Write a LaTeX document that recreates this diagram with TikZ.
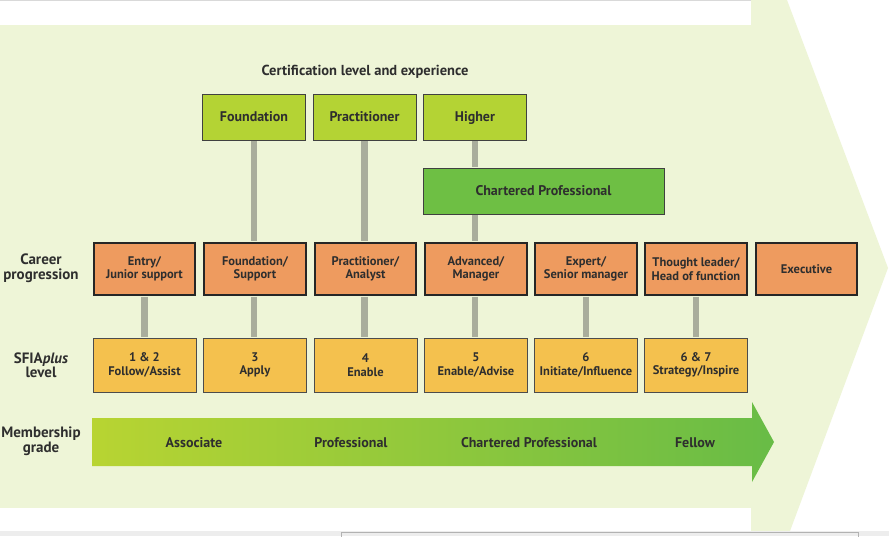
\documentclass[tikz,border=0pt]{standalone}
\usepackage{fontspec}
\setmainfont{PT Sans}
\usepackage{tikz}
\usetikzlibrary{positioning,calc}
\definecolor{bggreen}{HTML}{EEF5D7}
\definecolor{certgreen}{HTML}{B4D334}
\definecolor{chartgreen}{HTML}{6EBF44}
\definecolor{careerorange}{HTML}{EE9B5F}
\definecolor{levelyellow}{HTML}{F4C14E}
\definecolor{linkgrey}{HTML}{A9AD9C}
\definecolor{textgrey}{HTML}{2E2E2E}
\definecolor{gradeleft}{HTML}{B8D432}
\definecolor{graderight}{HTML}{68BC46}
\tikzset{
  boxfont/.style={font=\bfseries\fontsize{12.5}{13.5}\selectfont, text=textgrey, align=center, inner sep=0pt},
  certbox/.style={boxfont, font=\bfseries\fontsize{14}{15}\selectfont, text height=2.3ex, text depth=0.5ex, draw=black!75, line width=0.8pt, fill=certgreen, minimum width=103pt, minimum height=46pt},
  chartbox/.style={certbox, fill=chartgreen, minimum width=241pt},
  careerbox/.style={boxfont, draw=black!85, line width=1.8pt, fill=careerorange, minimum width=101.5pt, minimum height=52pt},
  levelbox/.style={boxfont, draw=black!70, line width=0.8pt, fill=levelyellow, minimum width=103pt, minimum height=54pt},
  link/.style={draw=linkgrey, line width=6.5pt, shorten <=1pt, shorten >=1pt},
  rowlabel/.style={font=\bfseries\fontsize{15}{14.5}\selectfont, text=textgrey, align=center, inner sep=0pt},
  gradelabel/.style={boxfont, font=\bfseries\fontsize{14}{15}\selectfont, text height=2.5ex, text depth=0.5ex}
}
\begin{document}
\begin{tikzpicture}[x=1pt,y=-1pt]
  \useasboundingbox (0,0) rectangle (889,536);
  \fill[white] (0,0) rectangle (889,536);
  \draw[black!15,line width=1pt] (0,0.5) -- (751,0.5);
  \fill[bggreen] (0,25) rectangle (752,508);
  \fill[bggreen] (751,0) -- (787,0) -- (888,268) -- (790,531) -- (751,531) -- cycle;
  \fill[black!7] (0,531) rectangle (889,536);
  \draw[black!30,line width=0.6pt] (341,536.5) -- (341,532.5) -- (858,532.5) -- (858,536.5);

  \node[boxfont,font=\bfseries\fontsize{14.5}{16}\selectfont] (title) at (365,71.5) {Certification level and experience};

  \node[certbox] (found) at (254,117) {Foundation};
  \node[certbox] (pract) at (364.5,117) {Practitioner};
  \node[certbox] (higher) at (475,117) {Higher};
  \node[chartbox] (chart) at (543.5,191) {Chartered Professional};

  \node[careerbox] (entry) at (144.5,269) {Entry/\\Junior support};
  \node[careerbox] (support) at (255,269) {Foundation/\\Support};
  \node[careerbox] (analyst) at (365.5,269) {Practitioner/\\Analyst};
  \node[careerbox] (manager) at (476,269) {Advanced/\\Manager};
  \node[careerbox] (senior) at (586,269) {Expert/\\Senior manager};
  \node[careerbox] (leader) at (696,269) {Thought leader/\\Head of function};
  \node[careerbox] (exec) at (806.5,269) {Executive};

  \node[levelbox] (lvla) at (144.5,365) {1 \& 2\\Follow/Assist};
  \node[levelbox] (lvlb) at (255,365) {3\\Apply};
  \node[levelbox] (lvlc) at (365.5,365) {4\\Enable};
  \node[levelbox] (lvld) at (476,365) {5\\Enable/Advise};
  \node[levelbox] (lvle) at (586,365) {6\\Initiate/Influence};
  \node[levelbox] (lvlf) at (696,365) {6 \& 7\\Strategy/Inspire};

  \draw[link] (found.south) -- (found.south |- support.north);
  \draw[link] (pract.south) -- (pract.south |- analyst.north);
  \draw[link] (higher.south) -- (higher.south |- chart.north);
  \draw[link] (higher.south |- chart.south) -- (higher.south |- manager.north);
  \draw[link] (entry.south) -- (lvla.north);
  \draw[link] (found.south |- support.south) -- (found.south |- lvlb.north);
  \draw[link] (pract.south |- analyst.south) -- (pract.south |- lvlc.north);
  \draw[link] (higher.south |- manager.south) -- (higher.south |- lvld.north);
  \draw[link] (senior.south) -- (lvle.north);
  \draw[link] (leader.south) -- (lvlf.north);

  \node[rowlabel] (career) at (41,268) {Career\\progression};
  \node[rowlabel] (sfia) at (41,365) {SFIA\textit{plus}\\level};
  \node[rowlabel] (member) at (41,441) {Membership\\grade};

  \shade[left color=gradeleft,right color=graderight] (92,418) -- (752,418) -- (752,402) -- (774,442) -- (752,482) -- (752,466) -- (92,466) -- cycle;
  \node[gradelabel] (assoc) at (194,442) {Associate};
  \node[gradelabel] (prof) at (351,442) {Professional};
  \node[gradelabel] (cprof) at (529,442) {Chartered Professional};
  \node[gradelabel] (fellow) at (695,442) {Fellow};
\end{tikzpicture}
\end{document}
